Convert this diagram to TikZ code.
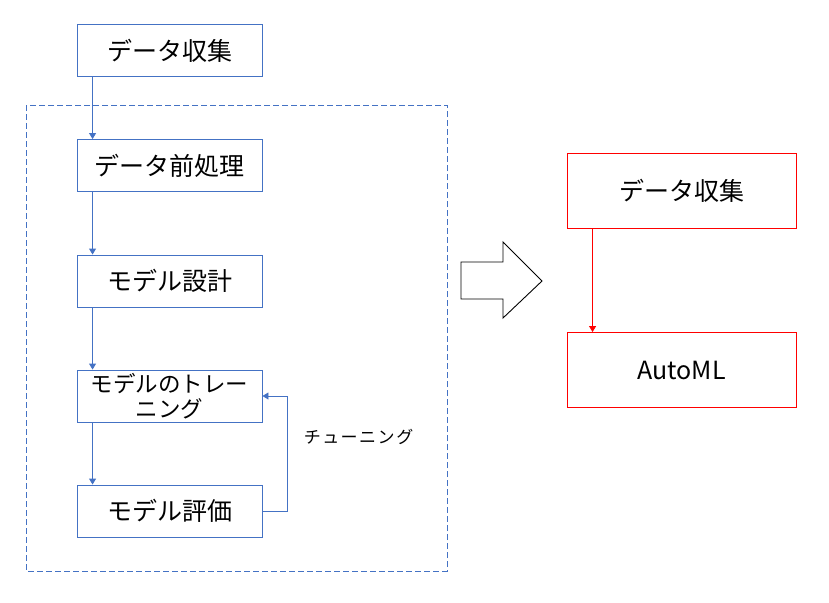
\documentclass[tikz,border=0pt]{standalone}
\usepackage{fontspec}
\setmainfont{Noto Sans CJK JP}
\usetikzlibrary{arrows.meta}
\definecolor{bl}{HTML}{4472C4}
\definecolor{rd}{HTML}{FF0000}
\newcommand{\tc}[1]{\makebox[18.5pt]{#1}}
\begin{document}
\begin{tikzpicture}[x=1pt,y=-1pt,
  bbox/.style={draw=bl,line width=0.9pt,minimum width=185pt,minimum height=52pt,inner sep=0pt,font=\fontsize{25}{26}\selectfont,align=center},
  rbox/.style={draw=rd,line width=0.9pt,minimum width=229pt,minimum height=75pt,inner sep=0pt,font=\fontsize{25}{26}\selectfont},
  barrow/.style={draw=bl,line width=0.9pt,-{Triangle[width=7pt,length=6pt]}},
  rarrow/.style={draw=rd,line width=0.9pt,-{Triangle[width=7pt,length=6pt]}},
  grpbox/.style={draw=bl,line width=0.9pt,dash pattern=on 6pt off 3pt},
  bigarrow/.style={draw=black,line width=0.9pt,fill=white,line join=miter}
]
\useasboundingbox (0,0) rectangle (829,602);
\fill[white] (0,0) rectangle (829,602);
% group box
\draw[grpbox] (26,105) rectangle (447,571);
% left flow
\node[bbox] (a) at (169.5,50.5) {データ収集};
\node[bbox] (b) at (169.5,165.5) {データ前処理};
\node[bbox] (c) at (169.5,281) {モデル設計};
\node[bbox,font=\fontsize{22.5}{25}\selectfont] (d) at (169.5,396) {モデルのトレー\\ニング};
\node[bbox] (e) at (169.5,511) {モデル評価};
\draw[barrow] ([xshift=16pt]a.south west) -- ([xshift=16pt]b.north west);
\draw[barrow] ([xshift=16pt]b.south west) -- ([xshift=16pt]c.north west);
\draw[barrow] ([xshift=16pt]c.south west) -- ([xshift=16pt]d.north west);
\draw[barrow] ([xshift=16pt]d.south west) -- ([xshift=16pt]e.north west);
\draw[barrow] (e.east) -- ++(25,0) |- (d.east);
\node[font=\fontsize{17}{18}\selectfont,inner sep=0pt] (tune) at (358.5,437) {\tc{チ}\tc{ュ}\tc{ー}\tc{ニ}\tc{ン}\tc{グ}};
% big arrow
\draw[bigarrow] (461,262) -- (503,262) -- (503,242) -- (542,281) -- (503,318) -- (503,299) -- (461,299) -- cycle;
% right flow
\node[rbox] (r1) at (681.5,190.5) {データ収集};
\node[rbox] (r2) at (681.5,370) {AutoML};
\draw[rarrow] ([xshift=26pt]r1.south west) -- ([xshift=26pt]r2.north west);
\end{tikzpicture}
\end{document}
